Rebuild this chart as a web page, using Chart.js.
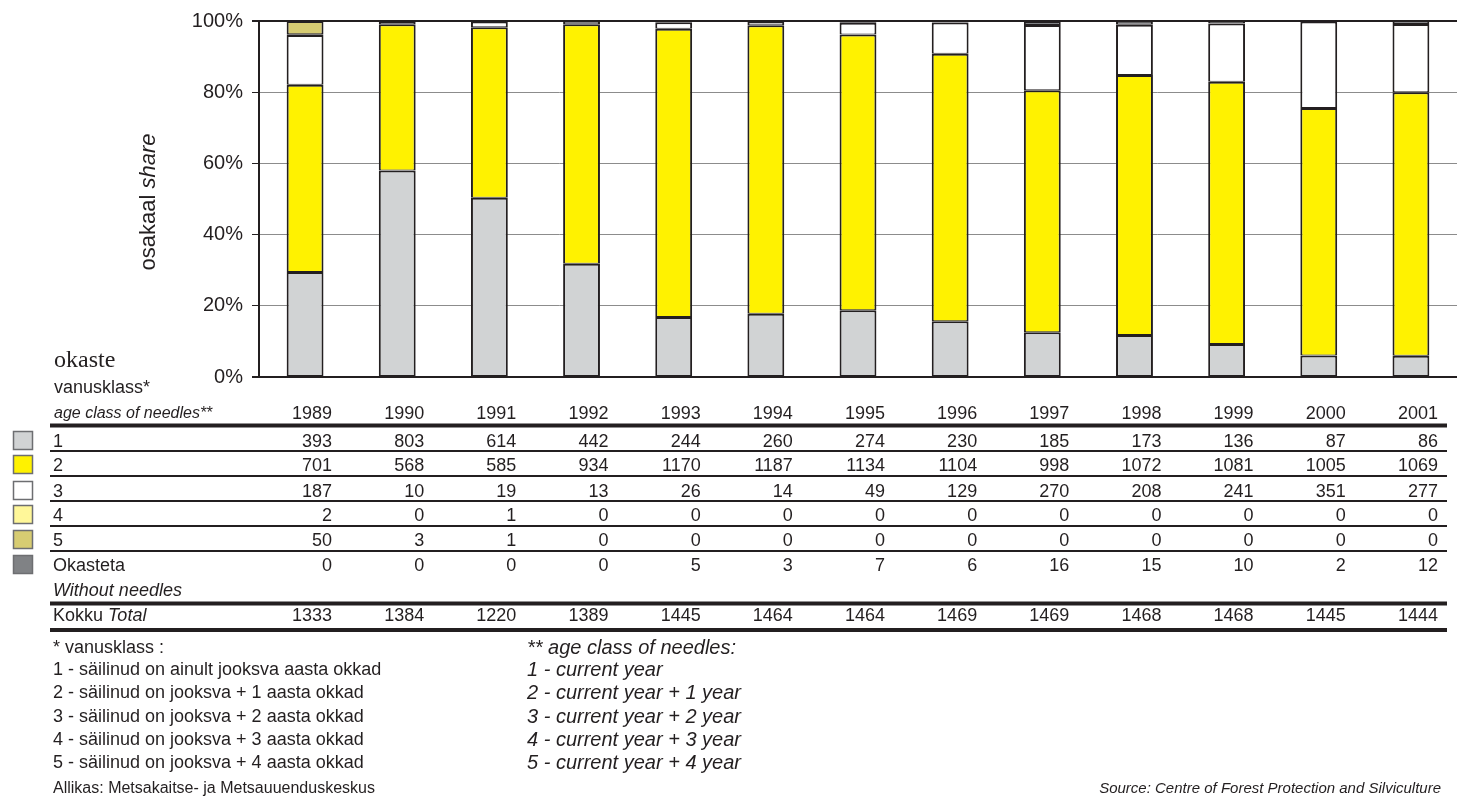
<!DOCTYPE html>
<html>
<head>
<meta charset="utf-8">
<script src="https://cdn.jsdelivr.net/npm/chart.js@4.4.1/dist/chart.umd.min.js"></script>
<style>
  html, body { margin: 0; padding: 0; background: #fff; }
  #wrap { width: 1457px; height: 796px; position: relative; }
</style>
</head>
<body>
<div id="wrap"><canvas id="chart" width="1457" height="796"></canvas></div>
<script>
// andmed - okaste vanusklassid aastate kaupa
const years = ['1989', '1990', '1991', '1992', '1993', '1994', '1995', '1996', '1997', '1998', '1999', '2000', '2001'];
const class1 = [393, 803, 614, 442, 244, 260, 274, 230, 185, 173, 136, 87, 86];
const class2 = [701, 568, 585, 934, 1170, 1187, 1134, 1104, 998, 1072, 1081, 1005, 1069];
const class3 = [187, 10, 19, 13, 26, 14, 49, 129, 270, 208, 241, 351, 277];
const class4 = [2, 0, 1, 0, 0, 0, 0, 0, 0, 0, 0, 0, 0];
const class5 = [50, 3, 1, 0, 0, 0, 0, 0, 0, 0, 0, 0, 0];
const noNeedles = [0, 0, 0, 0, 5, 3, 7, 6, 16, 15, 10, 2, 12];
const totals = [1333, 1384, 1220, 1389, 1445, 1464, 1464, 1469, 1469, 1468, 1468, 1445, 1444];
const yTicks = [0, 20, 40, 60, 80, 100];

const seriesNames = ['1', '2', '3', '4', '5', 'Okasteta'];
const seriesData = [class1, class2, class3, class4, class5, noNeedles];
const seriesColors = ['#d1d3d4', '#fff200', '#ffffff', '#fff799', '#d7cc72', '#808285'];

const INK = '#231f20';
const SANS = '"Liberation Sans", Arial, sans-serif';

const toShare = (arr) => arr.map((v, i) => v / totals[i] * 100);

const datasets = seriesData.map((arr, k) => ({
    label: seriesNames[k],
    data: toShare(arr),
    backgroundColor: seriesColors[k],
    borderColor: INK,
    borderWidth: { top: 2, bottom: 1, left: 2, right: 2 },
    borderSkipped: false,
    barPercentage: 0.4,
    categoryPercentage: 1.0,
}));

// tabel, legendiruudud ja tekstid joonistatakse graafiku alla
const tablePlugin = {
    id: 'tablePlugin',
    afterDraw(chart) {
        const ctx = chart.ctx;
        const xs = chart.scales.x;
        const colRight = (i) => xs.getPixelForValue(i) + 27;
        const lineL = 50, lineR = 1447;

        ctx.save();
        ctx.fillStyle = INK;
        ctx.strokeStyle = INK;

        // y-telje pealkiri
        ctx.save();
        ctx.translate(155, 202);
        ctx.rotate(-Math.PI / 2);
        ctx.textBaseline = 'alphabetic';
        ctx.font = '22px ' + SANS;
        const w1 = ctx.measureText('osakaal ').width;
        ctx.font = 'italic 22px ' + SANS;
        const w2 = ctx.measureText('share').width;
        let x0 = -(w1 + w2) / 2;
        ctx.textAlign = 'left';
        ctx.font = '22px ' + SANS;
        ctx.fillText('osakaal ', x0, 0);
        ctx.font = 'italic 22px ' + SANS;
        ctx.fillText('share', x0 + w1, 0);
        ctx.restore();

        // päise tekstid
        ctx.textAlign = 'left';
        ctx.font = '24px "Liberation Serif", "Times New Roman", serif';
        ctx.fillText('okaste', 54, 367);
        ctx.font = '18px ' + SANS;
        ctx.fillText('vanusklass*', 54, 393);
        ctx.font = 'italic 16px ' + SANS;
        ctx.fillText('age class of needles**', 54, 418);

        // aastad
        ctx.font = '18px ' + SANS;
        ctx.textAlign = 'right';
        years.forEach((y, i) => ctx.fillText(y, colRight(i), 419));

        const hline = (y, w) => {
            ctx.lineWidth = w;
            ctx.beginPath();
            ctx.moveTo(lineL, y);
            ctx.lineTo(lineR, y);
            ctx.stroke();
        };
        hline(425.5, 4);

        const rowBase = [447, 471, 497, 521, 546, 571];
        const rowLines = [451, 476, 501, 526, 551];
        seriesData.forEach((arr, k) => {
            const b = rowBase[k];
            // legendiruut
            ctx.fillStyle = seriesColors[k];
            ctx.fillRect(13, b - 16, 20, 19);
            ctx.lineWidth = 1.5;
            ctx.strokeStyle = '#6d6e71';
            ctx.strokeRect(13.5, b - 15.5, 19, 18);
            ctx.fillStyle = INK;
            ctx.strokeStyle = INK;
            ctx.textAlign = 'left';
            ctx.font = '18px ' + SANS;
            ctx.fillText(seriesNames[k], 53, b);
            ctx.textAlign = 'right';
            arr.forEach((v, i) => ctx.fillText(String(v), colRight(i), b));
        });
        rowLines.forEach((y) => hline(y, 2));

        ctx.textAlign = 'left';
        ctx.font = 'italic 18px ' + SANS;
        ctx.fillText('Without needles', 53, 596);
        hline(603.5, 4);

        ctx.font = '18px ' + SANS;
        ctx.fillText('Kokku ', 53, 621);
        const kw = ctx.measureText('Kokku ').width;
        ctx.font = 'italic 18px ' + SANS;
        ctx.fillText('Total', 53 + kw, 621);
        ctx.font = '18px ' + SANS;
        ctx.textAlign = 'right';
        totals.forEach((v, i) => ctx.fillText(String(v), colRight(i), 621));
        hline(630, 4);

        // joonealused märkused
        ctx.textAlign = 'left';
        ctx.font = '18px ' + SANS;
        const notesEt = [
            '* vanusklass :',
            '1 - säilinud on ainult jooksva aasta okkad',
            '2 - säilinud on jooksva + 1 aasta okkad',
            '3 - säilinud on jooksva + 2 aasta okkad',
            '4 - säilinud on jooksva + 3 aasta okkad',
            '5 - säilinud on jooksva + 4 aasta okkad',
        ];
        const notesEn = [
            '** age class of needles:',
            '1 - current year',
            '2 - current year + 1 year',
            '3 - current year + 2 year',
            '4 - current year + 3 year',
            '5 - current year + 4 year',
        ];
        const noteBase = [653, 675, 698, 722, 745, 768];
        notesEt.forEach((t, i) => ctx.fillText(t, 53, noteBase[i]));
        ctx.font = 'italic 20px ' + SANS;
        notesEn.forEach((t, i) => ctx.fillText(t, 527, noteBase[i] + 1));

        ctx.font = '16px ' + SANS;
        ctx.fillText('Allikas: Metsakaitse- ja Metsauuenduskeskus', 53, 793);
        ctx.textAlign = 'right';
        ctx.font = 'italic 15px ' + SANS;
        ctx.fillText('Source: Centre of Forest Protection and Silviculture', 1441, 793);

        ctx.restore();
    }
};

const edge = (c) => c.tick && (c.tick.value === 0 || c.tick.value === 100);

new Chart(document.getElementById('chart'), {
    type: 'bar',
    data: { labels: years, datasets: datasets },
    options: {
        responsive: false,
        animation: false,
        devicePixelRatio: 1,
        layout: { padding: { left: 0, right: 0, top: 20, bottom: 419 } },
        plugins: {
            legend: { display: false },
            tooltip: { enabled: false },
        },
        scales: {
            x: {
                stacked: true,
                display: false,
            },
            y: {
                stacked: true,
                min: 0,
                max: 100,
                afterBuildTicks: (scale) => {
                    scale.ticks = yTicks.map((v) => ({ value: v }));
                },
                afterFit: (scale) => { scale.width = 259; },
                border: { display: true, color: INK, width: 2 },
                grid: {
                    color: (c) => edge(c) ? INK : '#8c8c8c',
                    lineWidth: (c) => edge(c) ? 2 : 1,
                    tickColor: INK,
                    tickLength: 7,
                },
                ticks: {
                    color: INK,
                    padding: 9,
                    font: { family: SANS, size: 20 },
                    callback: (v) => v + '%',
                },
            },
        },
    },
    plugins: [tablePlugin],
});
</script>
</body>
</html>
